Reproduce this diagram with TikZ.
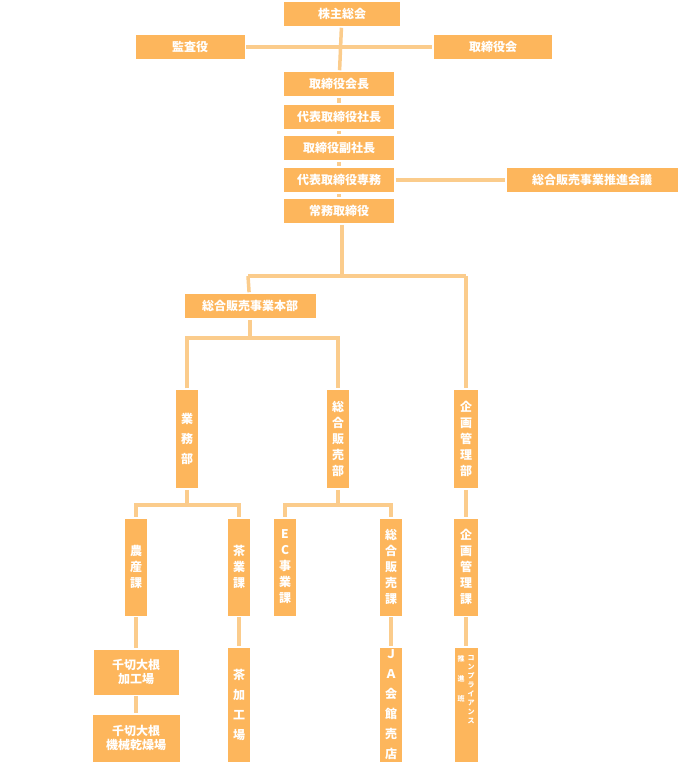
\documentclass[tikz,border=0pt]{standalone}
\usepackage{fontspec}
\setmainfont{Noto Sans CJK JP}
\usetikzlibrary{positioning}
\definecolor{boxorange}{HTML}{FDB65C}
\definecolor{lineorange}{HTML}{FBCC8C}
\begin{document}
\begin{tikzpicture}[x=1pt,y=-1pt, line width=3.5pt,
  box/.style={fill=boxorange, text=white, font=\fontsize{12}{14}\selectfont\bfseries, inner sep=0pt, minimum height=24pt},
  vbox/.style={box, minimum width=22pt, align=center, font=\fontsize{12}{16}\selectfont\bfseries},
  link/.style={draw=lineorange}]
  \useasboundingbox (0,0) rectangle (682,771);
  % links first
  \coordinate (trunk) at (342,276);
  \coordinate (lefttop) at (248,276);
  \coordinate (righttop) at (466,276);
  \coordinate (hqsplit) at (250,338);
  \coordinate (gyosplit) at (187,505);
  \coordinate (salesplit) at (338,505);
  % top management
  \node[box, minimum width=116pt] (meeting) at (342,14) {株主総会};
  \node[box, minimum width=109pt] (audit) at (190,47) {監査役};
  \node[box, minimum width=118pt] (board) at (493,47) {取締役会};
  \node[box, minimum width=110pt] (chair) at (339,84) {取締役会長};
  \node[box, minimum width=110pt] (pres) at (339,117) {代表取締役社長};
  \node[box, minimum width=110pt] (vice) at (339,148) {取締役副社長};
  \node[box, minimum width=110pt] (senior) at (339,180) {代表取締役専務};
  \node[box, minimum width=171pt] (council) at (592,180) {総合販売事業推進会議};
  \node[box, minimum width=110pt] (managing) at (339,211) {常務取締役};
  % departments
  \node[box, minimum width=131pt] (hq) at (250,306) {総合販売事業本部};
  \node[vbox, minimum height=98pt] (gyomu) at (187,439) {業\\[4pt]務\\[4pt]部};
  \node[vbox, minimum height=98pt] (sales) at (338,439) {総\\合\\販\\売\\部};
  \node[vbox, minimum height=98pt, minimum width=24pt] (plan) at (466,439) {企\\画\\管\\理\\部};
  % sections
  \node[vbox, minimum height=97pt] (farm) at (136,567) {農\\産\\課};
  \node[vbox, minimum height=97pt] (tea) at (239,567) {茶\\業\\課};
  \node[vbox, minimum height=97pt] (ec) at (285,567) {E\\C\\事\\業\\課};
  \node[vbox, minimum height=97pt] (salesec) at (391,567) {総\\合\\販\\売\\課};
  \node[vbox, minimum height=97pt, minimum width=24pt] (plansec) at (466,567) {企\\画\\管\\理\\課};
  % sites
  \node[box, minimum width=85pt, minimum height=45pt, align=center] (cutfac) at (136,672) {千切大根\\加工場};
  \node[box, minimum width=87pt, minimum height=47pt, align=center] (dryfac) at (136,738) {千切大根\\機械乾燥場};
  \node[vbox, minimum height=114pt, font=\fontsize{12}{20}\selectfont\bfseries] (teafac) at (239,705) {茶\\加\\工\\場};
  \node[vbox, minimum height=114pt, font=\fontsize{12}{20}\selectfont\bfseries] (shop) at (391,705) {Ｊ\\Ａ\\会\\館\\売\\店};
  \node[box, minimum width=23pt, minimum height=114pt] (comply) at (466,705) {};
  \node[font=\fontsize{7}{9}\selectfont\bfseries, text=white, align=center, inner sep=0pt, anchor=north] (complyr) at (471,654) {コ\\ン\\プ\\ラ\\イ\\ア\\ン\\ス};
  \node[font=\fontsize{7}{20}\selectfont\bfseries, text=white, align=center, inner sep=0pt, anchor=north] (complyl) at (461,654) {推\\進\\班};
  % connectors
  \begin{scope}[on background layer/.style={}]
  \end{scope}
  \draw[link] (meeting) -- (chair);
  \draw[link] (audit) -- (board);
  \draw[link] (chair) -- (pres);
  \draw[link] (pres) -- (vice);
  \draw[link] (vice) -- (senior);
  \draw[link] (senior) -- (council);
  \draw[link] (senior) -- (managing);
  \draw[link] (managing.south -| trunk) -- (trunk);
  \draw[link] (lefttop) -- (righttop);
  \draw[link] (lefttop) -- (hq);
  \draw[link] (righttop) -- (plan);
  \draw[link] (hq) -- (hqsplit);
  \draw[link] (gyomu.north) |- (hqsplit) -| (sales.north);
  \draw[link] (gyomu) -- (gyosplit);
  \draw[link] (farm.north) |- (gyosplit) -| (tea.north);
  \draw[link] (sales) -- (salesplit);
  \draw[link] (ec.north) |- (salesplit) -| (salesec.north);
  \draw[link] (plan) -- (plansec);
  \draw[link] (farm) -- (cutfac);
  \draw[link] (cutfac) -- (dryfac);
  \draw[link] (tea) -- (teafac);
  \draw[link] (salesec) -- (shop);
  \draw[link] (plansec) -- (comply);
  % redraw boxes over lines
  \foreach \n in {meeting,audit,board,chair,pres,vice,senior,council,managing,hq,gyomu,sales,plan,farm,tea,ec,salesec,plansec,cutfac,dryfac,teafac,shop}
    \node[fill=boxorange, inner sep=0pt, fit/.style={}, minimum width=0pt] at (\n) {};
\end{tikzpicture}
\end{document}
